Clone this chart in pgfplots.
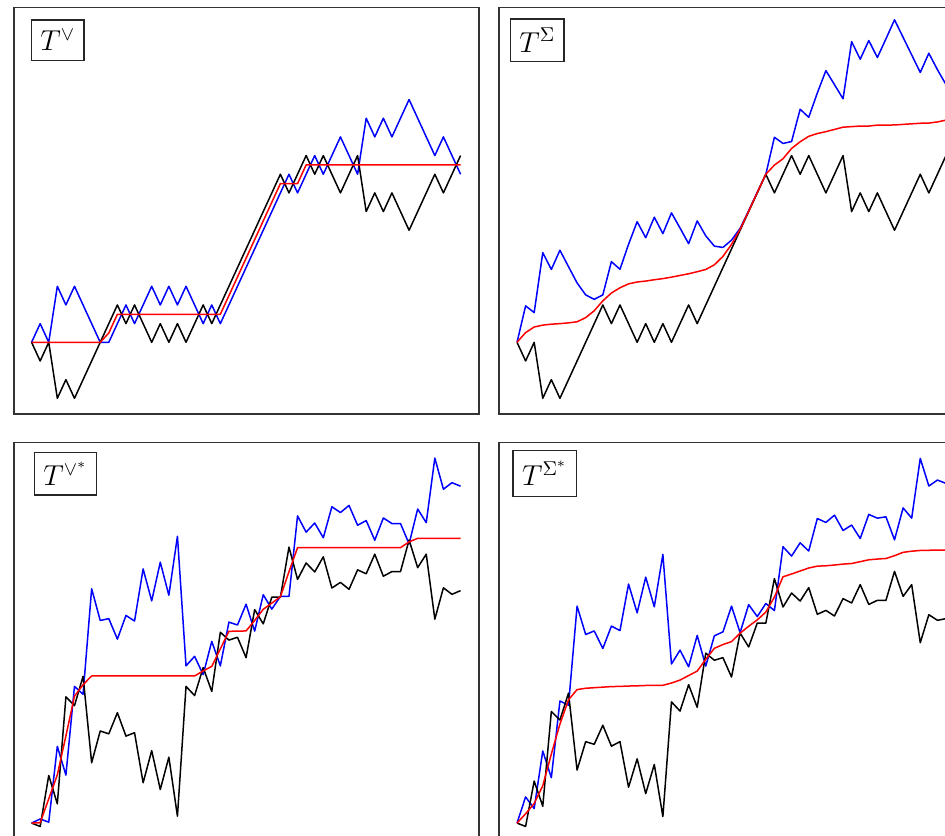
\documentclass[border=0pt]{standalone}
\usepackage{pgfplots}
\usepackage{pgfplotstable}
\pgfplotsset{compat=1.18}

\pgfplotstableread{
k bk bl rd
0 0 0 0
1 -1 1 0
2 0 0 0
3 -3 3 0
4 -2 2 0
5 -3 3 0
6 -2 2 0
7 -1 1 0
8 0 0 0
9 1 0 0.5
10 2 1 1.5
11 1 2 1.5
12 2 1 1.5
13 1 2 1.5
14 0 3 1.5
15 1 2 1.5
16 0 3 1.5
17 1 2 1.5
18 0 3 1.5
19 1 2 1.5
20 2 1 1.5
21 1 2 1.5
22 2 1 1.5
23 3 2 2.5
24 4 3 3.5
25 5 4 4.5
26 6 5 5.5
27 7 6 6.5
28 8 7 7.5
29 9 8 8.5
30 8 9 8.5
31 9 8 8.5
32 10 9 9.5
33 9 10 9.5
34 10 9 9.5
35 9 10 9.5
36 8 11 9.5
37 9 10 9.5
38 10 9 9.5
39 7 12 9.5
40 8 11 9.5
41 7 12 9.5
42 8 11 9.5
43 7 12 9.5
44 6 13 9.5
45 7 12 9.5
46 8 11 9.5
47 9 10 9.5
48 8 11 9.5
49 9 10 9.5
50 10 9 9.5
}\tabTL

\pgfplotstableread{
k bk bl rd
0 0 0 0
1 -1 1.95 0.52
2 0 1.59 0.82
3 -3 4.8 0.92
4 -2 3.9 0.97
5 -3 4.93 1.0
6 -2 4.05 1.04
7 -1 3.18 1.1
8 0 2.54 1.32
9 1 2.3 1.69
10 2 2.54 2.22
11 1 4.32 2.64
12 2 3.91 2.92
13 1 5.25 3.13
14 0 6.46 3.23
15 1 5.6 3.28
16 0 6.7 3.35
17 1 5.82 3.41
18 0 6.93 3.49
19 1 6.12 3.58
20 2 5.28 3.67
21 1 6.5 3.78
22 2 5.7 3.9
23 3 5.15 4.15
24 4 5.08 4.6
25 5 5.47 5.24
26 6 6.1 6.05
27 7 7.05 7.02
28 8 8.03 8.02
29 9 9 9
30 8 10.98 9.49
31 9 10.65 9.83
32 10 10.75 10.38
33 9 12.48 10.74
34 10 12.05 11.03
35 9 13.35 11.18
36 8 14.55 11.28
37 9 13.8 11.4
38 10 13.04 11.52
39 7 16.1 11.55
40 8 15.16 11.58
41 7 16.16 11.58
42 8 15.25 11.63
43 7 16.25 11.63
44 6 17.27 11.64
45 7 16.33 11.67
46 8 15.39 11.7
47 9 14.45 11.73
48 8 15.48 11.74
49 9 14.6 11.8
50 10 13.8 11.9
}\tabTR

\pgfplotstableread{
k bk bl rd
0 0 0 0
1 -0.18 0.22 0.02
2 2.55 0.05 1.3
3 1.03 4.11 2.58
4 6.76 2.57 4.67
5 6.29 7.32 6.8
6 7.86 6.9 7.41
7 3.23 12.55 7.88
8 4.93 10.85 7.88
9 4.78 10.95 7.88
10 5.91 9.85 7.88
11 4.66 11.12 7.88
12 4.84 10.82 7.88
13 2.16 13.61 7.88
14 3.88 11.9 7.88
15 1.8 13.97 7.88
16 3.53 12.2 7.88
17 0.37 15.36 7.88
18 7.32 8.42 7.88
19 6.83 8.93 7.88
20 8.33 7.95 8.15
21 7.05 9.73 8.39
22 10.22 8.42 9.33
23 9.8 10.76 10.27
24 9.95 10.61 10.28
25 8.86 11.72 10.29
26 11.43 10.28 10.85
27 10.67 12.23 11.45
28 12.1 11.46 11.78
29 12.1 12.14 12.12
30 14.78 12.14 13.46
31 13.05 16.45 14.75
32 13.93 15.58 14.75
33 13.45 16.07 14.75
34 14.26 15.28 14.75
35 12.59 16.94 14.75
36 12.89 16.63 14.75
37 12.52 17.01 14.75
38 13.56 15.95 14.75
39 13.35 16.2 14.75
40 14.4 15.15 14.75
41 13.22 16.34 14.75
42 13.47 16.04 14.75
43 13.47 16.04 14.75
44 15.16 14.95 15.06
45 13.68 16.82 15.25
46 14.4 16.09 15.25
47 10.92 19.55 15.25
48 12.6 17.88 15.25
49 12.25 18.23 15.25
50 12.45 18.04 15.25
}\tabBL

\pgfplotstableread{
k bk bl rd
0 0 0 0
1 -0.18 1.4 0.5
2 2.25 0.78 1.05
3 0.9 3.86 2.0
4 5.98 2.43 3.7
5 5.52 6.54 5.3
6 6.96 6.31 6.6
7 2.84 11.62 7.15
8 4.36 10.1 7.22
9 4.22 10.29 7.25
10 5.24 9.35 7.28
11 4.12 10.55 7.31
12 4.36 10.31 7.32
13 1.92 12.8 7.34
14 3.44 11.26 7.35
15 1.58 13.17 7.37
16 3.14 11.58 7.37
17 0.35 14.39 7.38
18 6.49 8.52 7.5
19 6.0 9.26 7.66
20 7.41 8.37 7.9
21 6.2 10.05 8.14
22 9.1 8.41 8.77
23 8.72 10.03 9.36
24 8.86 10.24 9.56
25 7.82 11.62 9.72
26 10.18 10.2 10.17
27 9.43 11.7 10.54
28 10.71 11.06 10.88
29 10.71 11.76 11.3
30 13.09 11.38 12.1
31 11.57 14.8 13.19
32 12.32 14.3 13.34
33 11.89 15.01 13.5
34 12.61 14.57 13.66
35 11.18 16.31 13.76
36 11.39 16.1 13.78
37 11.09 16.49 13.82
38 12.02 15.67 13.87
39 11.79 15.96 13.9
40 12.77 15.24 14.0
41 11.71 16.53 14.1
42 11.93 16.33 14.14
43 11.93 16.4 14.17
44 13.48 15.17 14.32
45 12.14 16.88 14.5
46 12.77 16.33 14.56
47 9.66 19.53 14.6
48 11.16 18.05 14.61
49 10.86 18.37 14.62
50 10.95 18.19 14.62
}\tabBR

\pgfplotsset{
  panel/.style={scale only axis, width=232.5pt, height=203.35pt,
    anchor=north west, xtick=\empty, ytick=\empty,
    axis line style={black!80, line width=0.6pt}},
  bkl/.style={black, line width=0.75pt, mark=none, line join=round},
  bll/.style={blue, line width=0.75pt, mark=none, line join=round},
  rdl/.style={red, line width=0.75pt, mark=none, line join=round},
}
\tikzset{lab/.style={draw=black!85, line width=0.6pt, inner sep=0pt, anchor=north west,
  font=\Large}}

\begin{document}
\begin{tikzpicture}
\begin{scope}
\clip (0,0) rectangle (472.5pt,-417.5pt);
% top left
\begin{axis}[panel, at={(7pt,-3.65pt)}, xmin=-2.05, xmax=52.15, ymin=-3.84, ymax=17.94]
\addplot[bll] table[x=k,y=bl]{\tabTL};
\addplot[bkl] table[x=k,y=bk]{\tabTL};
\addplot[rdl] table[x=k,y=rd]{\tabTL};
\end{axis}
% top right
\begin{axis}[panel, at={(249.5pt,-3.65pt)}, xmin=-2.1, xmax=52.1, ymin=-3.84, ymax=17.94]
\addplot[bll] table[x=k,y=bl]{\tabTR};
\addplot[bkl] table[x=k,y=bk]{\tabTR};
\addplot[rdl] table[x=k,y=rd]{\tabTR};
\end{axis}
% bottom left
\begin{axis}[panel, at={(7pt,-221.35pt)}, xmin=-2.05, xmax=52.15, ymin=-1.41, ymax=20.37]
\addplot[bll] table[x=k,y=bl]{\tabBL};
\addplot[bkl] table[x=k,y=bk]{\tabBL};
\addplot[rdl] table[x=k,y=rd]{\tabBL};
\end{axis}
% bottom right
\begin{axis}[panel, at={(249.5pt,-221.35pt)}, xmin=-2.1, xmax=52.1, ymin=-1.41, ymax=20.37]
\addplot[bll] table[x=k,y=bl]{\tabBR};
\addplot[bkl] table[x=k,y=bk]{\tabBR};
\addplot[rdl] table[x=k,y=rd]{\tabBR};
\end{axis}
\node[lab, minimum width=26.2pt, minimum height=20.3pt] at (15.5pt,-9.65pt) {$T^{\vee}$};
\node[lab, minimum width=26.7pt, minimum height=21.3pt] at (255pt,-9.15pt) {$T^{\Sigma}$};
\node[lab, minimum width=30.8pt, minimum height=21.3pt] at (17pt,-225.85pt) {$T^{\vee^{*}}$};
\node[lab, minimum width=31.7pt, minimum height=22.8pt] at (256.15pt,-225pt) {$T^{\Sigma^{*}}$};
\end{scope}
\pgfresetboundingbox
\path[use as bounding box] (0,0) rectangle (472.5pt,-417.5pt);
\end{tikzpicture}
\end{document}
